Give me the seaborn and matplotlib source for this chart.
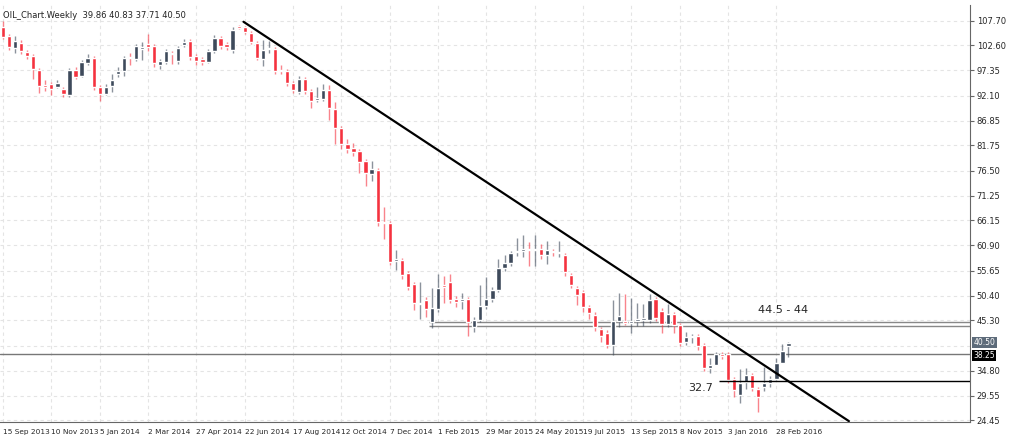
import matplotlib
matplotlib.use("Agg")
import matplotlib.pyplot as plt
import seaborn as sns
import pandas as pd

# -----------------------------------------
# DATA (weekly OIL candles)
# -----------------------------------------
opens = [106.5, 104.5, 102.0, 103.1, 101.2, 100.4, 97.5, 94.4, 94.6, 94.0,
         93.5, 92.3, 97.5, 96.2, 99.0, 100.0, 94.0, 92.5, 94.2, 96.6,
         97.2, 100.0, 99.8, 101.9, 102.9, 102.5, 98.5, 99.1, 101.0, 99.3,
         102.7, 103.5, 100.4, 99.8, 99.2, 101.5, 104.2, 102.9, 101.6, 106.5,
         106.4, 105.2, 103.1, 99.8, 101.8, 101.9, 97.5, 97.3, 94.8, 92.9,
         95.6, 93.1, 91.3, 91.5, 93.3, 89.4, 85.4, 82.1, 81.2, 80.6,
         78.5, 75.8, 76.6, 65.8, 65.6, 57.6, 57.9, 55.2, 52.9, 48.6,
         49.6, 45.0, 47.7, 52.7, 53.3, 49.8, 49.4, 49.8, 43.9, 45.4,
         48.3, 49.8, 51.7, 56.1, 57.3, 59.5, 59.8, 60.1, 60.0, 60.2,
         58.9, 59.7, 59.3, 58.9, 54.8, 52.1, 51.2, 48.1, 46.5, 43.5,
         42.7, 40.2, 45.2, 45.2, 44.8, 45.1, 45.4, 45.4, 49.8, 47.3,
         44.6, 46.7, 44.4, 40.8, 41.8, 42.0, 40.2, 35.4, 36.0, 38.3,
         38.3, 33.1, 29.8, 32.5, 34.0, 31.0, 31.4, 32.3, 33.1, 36.4,
         39.86]
closes = [104.4, 102.3, 103.5, 101.4, 100.4, 97.7, 94.2, 94.0, 93.5, 94.8,
          92.5, 97.5, 96.0, 99.2, 100.0, 94.0, 92.5, 94.0, 95.4, 97.2,
          99.9, 99.9, 102.5, 102.3, 102.3, 99.0, 99.3, 101.5, 100.8, 102.0,
          103.3, 100.2, 99.3, 99.2, 101.5, 104.2, 102.5, 102.3, 105.8, 106.3,
          105.4, 103.3, 100.0, 101.7, 101.9, 97.3, 97.3, 94.8, 93.3, 95.6,
          93.1, 91.0, 91.7, 93.3, 89.6, 85.4, 82.1, 81.0, 80.4, 78.3,
          76.0, 76.8, 65.8, 65.6, 57.5, 58.0, 54.8, 52.3, 49.0, 49.0,
          47.7, 47.9, 52.1, 52.3, 49.6, 49.2, 49.6, 45.0, 45.4, 48.3,
          49.8, 51.7, 56.1, 57.3, 59.4, 59.7, 60.2, 60.0, 60.2, 58.9,
          60.0, 59.5, 59.6, 55.4, 52.7, 50.6, 48.1, 46.9, 43.9, 42.1,
          40.2, 45.2, 46.2, 44.8, 45.1, 45.6, 45.8, 49.6, 45.8, 44.6,
          46.7, 44.4, 40.6, 41.8, 42.1, 40.0, 35.4, 36.0, 38.3, 37.9,
          32.9, 30.8, 32.3, 34.0, 31.2, 29.4, 32.3, 33.1, 36.4, 38.9,
          40.50]
highs = [107.6, 104.9, 104.6, 103.6, 101.6, 100.8, 97.9, 95.3, 95.0, 95.4,
         93.9, 97.9, 98.0, 99.6, 100.8, 100.4, 94.4, 94.6, 96.6, 98.0,
         100.4, 100.9, 102.9, 103.3, 105.0, 102.9, 99.8, 101.9, 101.4, 102.4,
         103.9, 103.9, 100.8, 100.2, 101.9, 104.7, 104.6, 103.3, 106.4, 106.9,
         106.6, 105.6, 103.5, 103.6, 103.5, 102.2, 98.4, 97.7, 95.2, 96.1,
         96.0, 93.5, 94.0, 94.5, 94.4, 90.8, 85.8, 83.0, 82.2, 81.0,
         78.9, 78.5, 77.0, 69.0, 66.0, 60.0, 58.3, 55.6, 53.3, 53.3,
         50.2, 52.0, 55.0, 54.5, 55.0, 50.3, 51.0, 50.2, 46.0, 52.6,
         54.4, 52.2, 58.0, 59.0, 59.8, 62.5, 63.0, 61.7, 63.0, 61.2,
         61.8, 60.2, 61.8, 59.3, 55.2, 52.5, 51.6, 48.5, 47.0, 44.0,
         43.2, 49.5, 51.0, 50.8, 50.0, 49.0, 48.6, 50.8, 50.2, 47.8,
         48.6, 47.0, 44.8, 42.8, 42.5, 42.4, 40.6, 37.5, 38.6, 38.8,
         38.7, 33.5, 35.2, 35.3, 34.4, 31.4, 35.6, 33.6, 37.4, 40.3,
         40.83]
lows = [103.9, 101.6, 101.0, 100.7, 99.8, 95.6, 92.6, 93.0, 92.2, 93.8,
        91.9, 91.8, 95.5, 96.0, 98.5, 93.2, 91.0, 92.2, 92.8, 96.0,
        96.3, 98.4, 99.3, 99.6, 101.4, 98.0, 97.7, 98.6, 98.6, 98.8,
        102.2, 99.5, 98.4, 98.5, 98.9, 101.0, 101.9, 101.6, 101.0, 105.9,
        104.9, 102.8, 99.5, 98.2, 100.9, 96.6, 96.6, 94.2, 92.6, 92.5,
        92.4, 89.5, 90.8, 90.9, 87.0, 82.0, 81.0, 80.1, 79.5, 76.0,
        73.2, 74.3, 64.9, 62.2, 56.8, 55.8, 54.0, 51.6, 47.5, 45.5,
        46.0, 43.6, 47.0, 49.0, 48.9, 48.0, 47.6, 42.1, 42.8, 45.0,
        47.6, 49.2, 51.2, 55.6, 56.6, 58.6, 58.4, 56.6, 56.7, 58.0,
        57.0, 58.6, 58.5, 54.6, 52.0, 48.4, 47.1, 45.6, 43.0, 40.8,
        39.6, 38.0, 44.0, 44.3, 42.6, 44.2, 44.2, 44.8, 45.2, 42.6,
        44.0, 42.7, 40.0, 40.2, 40.6, 39.2, 34.7, 34.3, 36.2, 37.3,
        32.2, 29.4, 28.0, 30.9, 30.6, 26.2, 30.6, 31.4, 32.8, 36.8,
        37.71]

week_start = "2013-09-15"
tick_every = 8
# 40.05 sits under the price flags in the original, so it is not labelled
y_ticks = [107.70, 102.60, 97.35, 92.10, 86.85, 81.75, 76.50, 71.25, 66.15,
           60.90, 55.65, 50.40, 45.30, 34.80, 29.55, 24.45]

df = pd.DataFrame({"open": opens, "high": highs, "low": lows, "close": closes})
df["date"] = pd.date_range(week_start, periods=len(df), freq="7D")
df["idx"] = range(len(df))
df["up"] = df["close"] >= df["open"]

# -----------------------------------------
# PLOT
# -----------------------------------------
sns.set_style("white")
plt.rcParams["font.family"] = ["DejaVu Sans"]

UP_COL = "#3e4a5b"
DN_COL = "#f5323f"

fig = plt.figure(figsize=(10.24, 4.38), dpi=100)
ax = fig.add_axes([0.0, 0.037, 0.947, 0.952])

colors = [UP_COL if u else DN_COL for u in df["up"]]
ax.vlines(df["idx"], df["low"], df["high"], colors=colors, linewidth=1, alpha=0.6, zorder=2)
body_h = (df["close"] - df["open"]).abs().clip(lower=0.25)
body_b = df[["open", "close"]].min(axis=1)
ax.bar(df["idx"], body_h, bottom=body_b, width=0.7, color=colors, zorder=3)

# trend line and levels
ax.plot([39.8, 140], [107.5, 24.3], color="black", lw=1.6, zorder=4)
ax.axhline(38.25, color="#777777", lw=1, zorder=1)
ax.hlines([45.0, 44.1], 70.5, 200, color="#888888", lw=1, zorder=1)
ax.hlines(32.7, 118.5, 200, color="black", lw=1, zorder=4)
ax.text(125, 46.4, "44.5 - 44", fontsize=8, ha="left", va="bottom")
ax.text(115.5, 32.3, "32.7", fontsize=8, ha="center", va="top")
ax.text(0.003, 0.985, "OIL_Chart.Weekly  39.86 40.83 37.71 40.50", transform=ax.transAxes,
        fontsize=6, ha="left", va="top", color="#222222")

ax.set_xlim(-0.5, 160)
ax.set_ylim(24.16, 111.03)

ticks = list(range(0, len(df), tick_every))
ax.set_xticks(ticks)
ax.set_xticklabels([df["date"][i].strftime("%-d %b %Y") for i in ticks], fontsize=5.3)
ax.set_yticks(y_ticks)
ax.set_yticklabels([f"{v:.2f}" for v in y_ticks], fontsize=6)
ax.yaxis.tick_right()
ax.tick_params(axis="both", length=3, pad=2, color="#666666")
for lab in ax.get_xticklabels():
    lab.set_horizontalalignment("left")

ax.grid(True, linestyle=(0, (3, 3)), color="#e4e4e4", lw=0.8)
ax.axhline(40.05, linestyle=(0, (3, 3)), color="#e4e4e4", lw=0.8, zorder=0)
for s in ["top", "left"]:
    ax.spines[s].set_visible(False)
ax.spines["right"].set_color("#666666")
ax.spines["bottom"].set_color("#666666")

# price flags
ax.text(1.004, 40.75, "40.50", transform=ax.get_yaxis_transform(), fontsize=5.5, va="center",
        color="white", bbox=dict(facecolor="#5d6b7a", edgecolor="none", pad=0.8))
ax.text(1.004, 38.0, "38.25", transform=ax.get_yaxis_transform(), fontsize=5.5, va="center",
        color="white", bbox=dict(facecolor="black", edgecolor="none", pad=0.8))

fig.savefig("out.png", dpi=100)
